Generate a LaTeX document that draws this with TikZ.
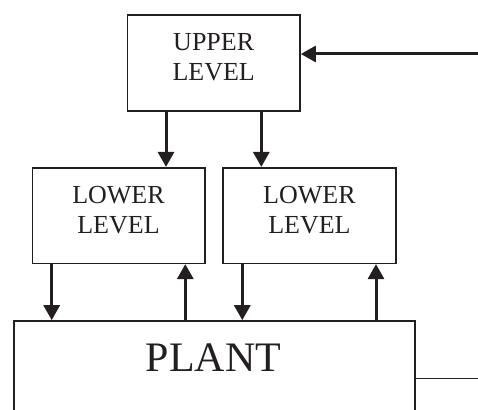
\documentclass[tikz,border=0pt]{standalone}
\usepackage{fontspec}
\setmainfont{Liberation Serif}
\usetikzlibrary{arrows.meta}
\definecolor{ink}{RGB}{35,31,32}
\tikzset{
  block/.style={draw=ink, line width=1.6pt, rectangle, inner sep=0pt},
  caption/.style={text=ink, anchor=base, inner sep=0pt, font=\fontsize{26}{30}\selectfont},
  bigcaption/.style={text=ink, anchor=base, inner sep=0pt, font=\fontsize{42}{48}\selectfont},
  flow/.style={draw=ink, line width=3pt, -{Triangle[length=15pt,width=16pt]}},
  wire/.style={draw=ink, line width=1.3pt}
}
\begin{document}
\begin{tikzpicture}[x=1pt, y=-1pt]
  \useasboundingbox (0,0) rectangle (478,409);
  \clip (0,0) rectangle (478,409);

  % controller blocks
  \node[block, minimum width=172.7pt, minimum height=95.7pt] (upper) at (213.7,62.9) {};
  \node[block, minimum width=172.4pt, minimum height=95.6pt] (low1) at (118.5,215.5) {};
  \node[block, minimum width=172.7pt, minimum height=95.6pt] (low2) at (309.4,215.5) {};
  % plant runs past the lower edge
  \node[block, minimum width=401pt, minimum height=140pt] (plant) at (214.2,391) {};

  % block labels
  \node[caption] (upper-a) at (213.7,50.7) {UPPER};
  \node[caption] (upper-b) at (213.7,80.8) {LEVEL};
  \node[caption] (low1-a) at (118.5,203.3) {LOWER};
  \node[caption] (low1-b) at (118.5,233.3) {LEVEL};
  \node[caption] (low2-a) at (309.4,203.3) {LOWER};
  \node[caption] (low2-b) at (309.4,233.3) {LEVEL};
  \node[bigcaption] (plant-a) at (213.5,371.7) {PLANT};

  % external signals
  \coordinate (ref) at (478,54);
  \coordinate (meas) at (478,378.7);
  \draw[flow] (ref) -- (ref -| upper.east);
  \draw[wire] (meas -| plant.east) -- (meas);

  % upper to lower level commands
  \draw[flow] (166,0 |- upper.south) -- (166,0 |- low1.north);
  \draw[flow] (261.3,0 |- upper.south) -- (261.3,0 |- low2.north);

  % lower level to plant and back
  \draw[flow] (51.7,0 |- low1.south) -- (51.7,0 |- plant.north);
  \draw[flow] (185.3,0 |- plant.north) -- (185.3,0 |- low1.south);
  \draw[flow] (242.3,0 |- low2.south) -- (242.3,0 |- plant.north);
  \draw[flow] (376,0 |- plant.north) -- (376,0 |- low2.south);
\end{tikzpicture}
\end{document}
